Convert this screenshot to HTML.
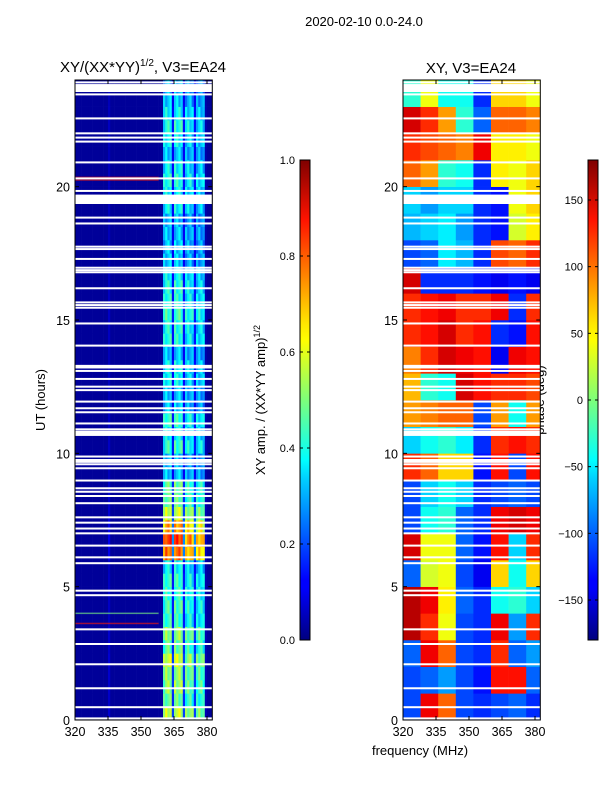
<!DOCTYPE html>
<html><head><meta charset="utf-8">
<style>
body{margin:0;background:#fff;}
svg{display:block;font-family:"Liberation Sans",sans-serif;}
</style></head>
<body>
<svg id="fig" width="600" height="800" viewBox="0 0 600 800">
<defs>
<linearGradient id="jetv" x1="0" y1="1" x2="0" y2="0">
<stop offset="0" stop-color="#00007f"/><stop offset="0.11" stop-color="#0000ff"/>
<stop offset="0.125" stop-color="#0000ff"/><stop offset="0.34" stop-color="#00d4ff"/>
<stop offset="0.375" stop-color="#00ffff"/><stop offset="0.5" stop-color="#7dff7a"/>
<stop offset="0.625" stop-color="#ffff00"/><stop offset="0.66" stop-color="#ffe600"/>
<stop offset="0.875" stop-color="#ff1300"/><stop offset="1" stop-color="#7f0000"/>
</linearGradient>
</defs>
<text x="364" y="26" font-size="13" text-anchor="middle">2020-02-10 0.0-24.0</text>
<text x="143" y="72" font-size="15" text-anchor="middle">XY/(XX*YY)<tspan font-size="10" dy="-6">1/2</tspan><tspan dy="6">, V3=EA24</tspan></text>
<text x="471" y="73" font-size="15" text-anchor="middle">XY, V3=EA24</text>
<text x="0" y="0" font-size="13" text-anchor="middle" transform="translate(45,400) rotate(-90)">UT (hours)</text>
<text x="420" y="755" font-size="13" text-anchor="middle">frequency (MHz)</text>
<text x="0" y="0" font-size="13" text-anchor="middle" transform="translate(265,400) rotate(-90)">XY amp. / (XX*YY amp)<tspan font-size="9" dy="-5">1/2</tspan></text>
<text x="0" y="0" font-size="13" text-anchor="middle" transform="translate(544,400) rotate(-90)">phase (deg)</text>
<g id="left"></g><g id="right"></g><g id="cbars"></g>
</svg>
<script>
// ---- data ----
const flagHours = [23.91,23.81,23.7,23.6,23.46,22.56,22.0,21.84,21.69,20.91,20.31,19.84,19.66,19.56,19.46,18.84,18.62,17.75,17.66,17.29,16.96,16.87,16.79,16.19,15.66,15.56,15.46,14.87,14.04,13.28,13.22,13.09,12.79,12.5,12.37,11.94,11.69,11.54,11.12,10.9,10.81,10.75,10.69,9.88,9.75,9.68,9.59,9.44,8.98,8.69,8.56,8.4,8.13,7.6,7.4,7.18,7.0,6.54,6.1,5.88,4.85,4.68,3.4,2.85,2.09,1.19,0.48,0.06];
// stripe amplitude per half-hour (index 0 = 0-0.5h)
const rowAmp = [0.55,0.45,0.5,0.5,0.55,0.45,0.5,0.4,0.42,0.4,0.4,0.35,0.75,0.8,0.7,0.55,0.45,0.45,0.3,0.28,0.4,0.35,0.4,0.3,0.3,0.35,0.35,0.3,0.38,0.38,0.42,0.38,0.38,0.35,0.3,0.3,0.3,0.28,0.35,0.35,0.38,0.35,0.3,0.35,0.38,0.35,0.3,0.28];
// channel weights, 1 MHz channels starting at 320
const chanWeight = [0,0,0,0,0,0,0,0,0,0,0,0,0,0,0,0.1,0,0,0,0,0,0,0,0,0,0,0,0,0,0,0,0,0,0,0,0,0,0,0,0,0.9,1,1,1,0.3,1,1,1,1,0.3,0.85,0.9,0.9,0.85,0.3,0.8,0.85,0.85,0.8,0.05,0,0,0];
const rfiHours = [20.35,20.25,18.62,3.62,4.0];
const rfiValues = [0.9,0.85,0.6,0.85,0.5];
// phase grid: rows hour 0..23, cols 8 frequency groups
const phaseColEdges = [320,328,336,344,352,360,368,376,382.5];
const phaseRows = [
[-110,140,100,-110,-120,-110,-100,-120],
[-110,-100,-80,-110,-130,130,130,-100],
[-100,140,100,-110,-120,120,-100,-80],
[160,120,40,-110,-120,140,-80,120],
[160,140,50,-100,-120,-40,-30,-60],
[-100,30,40,-110,-140,60,-40,60],
[150,40,40,-100,-130,130,-60,120],
[-110,-40,-30,-100,-120,140,150,140],
[-110,-60,-40,-60,-120,-110,-100,-110],
[120,100,60,60,-130,130,-110,130],
[-60,-40,-30,-50,-120,120,130,120],
[80,90,100,100,-110,80,-40,80],
[70,-30,-40,150,130,120,120,110],
[90,120,150,140,130,-140,140,130],
[120,130,150,120,130,-120,-130,130],
[120,130,140,120,120,140,-120,120],
[150,-120,-120,-120,-130,-140,-130,-140],
[-110,-100,-50,-70,-120,110,100,120],
[-70,-60,-50,-80,-120,-130,30,50],
[-60,-80,-60,-60,-120,-130,40,60],
[100,80,-30,-40,-120,50,40,60],
[120,110,100,90,140,50,50,40],
[150,120,80,-30,-100,100,100,90],
[-30,40,-40,-40,-120,60,60,40]];
const xTicks = [320,335,350,365,380];
const yTicks = [0,5,10,15,20];
const ampTicks = [0.0,0.2,0.4,0.6,0.8,1.0];
const phaseTicks = [-150,-100,-50,0,50,100,150];

// ---- helpers ----
const NS="http://www.w3.org/2000/svg";
function jet(t){t=Math.max(0,Math.min(1,t));
 const r=Math.max(0,Math.min(1,1.5-Math.abs(4*t-3))),g=Math.max(0,Math.min(1,1.5-Math.abs(4*t-2))),b=Math.max(0,Math.min(1,1.5-Math.abs(4*t-1)));
 return `rgb(${Math.round(r*255)},${Math.round(g*255)},${Math.round(b*255)})`;}
function mk(tag,attrs,parent){const e=document.createElementNS(NS,tag);for(const k in attrs)e.setAttribute(k,attrs[k]);parent.appendChild(e);return e;}
const Y0=720,Y1=80;
function yS(h){return Y0-(h/24)*(Y0-Y1);}
function xS(x0){return f=>x0+(f-320)*2.2;}
const FMAX=382.4;

function axes(g,x0,name){
 const xs=xS(x0), x1=xs(FMAX);
 const fr=mk('rect',{x:x0,y:Y1,width:x1-x0,height:Y0-Y1,fill:'none',stroke:'#000','stroke-width':1},g);
 
 
 xTicks.forEach(v=>{const x=xs(v);
  mk('line',{x1:x,x2:x,y1:Y0,y2:Y0-4,stroke:'#000'},g);mk('line',{x1:x,x2:x,y1:Y1,y2:Y1+4,stroke:'#000'},g);
  const t=mk('text',{x:x,y:Y0+16,'font-size':12.5,'text-anchor':'middle'},g);t.textContent=v;
  
  });
 yTicks.forEach(v=>{const y=yS(v);
  mk('line',{x1:x0,x2:x0+4,y1:y,y2:y,stroke:'#000'},g);mk('line',{x1:x1,x2:x1-4,y1:y,y2:y,stroke:'#000'},g);
  const t=mk('text',{x:x0-5,y:y+5,'font-size':12.5,'text-anchor':'end'},g);t.textContent=v;
  
  });
}
function flags(g,x0){const xs=xS(x0);
 flagHours.forEach(h=>{const r=mk('rect',{x:x0,y:yS(h)-1,width:xs(FMAX)-x0,height:2,fill:'#fff'},g);
  
  });
 const gap=mk('rect',{x:x0,y:yS(19.7),width:xs(FMAX)-x0,height:yS(19.35)-yS(19.7),fill:'#fff'},g);
 
 
 const top=mk('rect',{x:x0,y:yS(23.8),width:xs(FMAX)-x0,height:yS(23.55)-yS(23.8),fill:'#fff'},g);
 
 
}

// ---- left amplitude heatmap ----
(function(){const g=document.getElementById('left');const x0=75,xs=xS(x0);
 rowAmp.forEach((a,r)=>{chanWeight.forEach((w,c)=>{
  const f0=320+c,f1=Math.min(FMAX,f0+1); if(f0>=FMAX)return;
  const v=0.025+a*w+(w>0.5?((r+c)%3-1)*0.05:0);
  const cell=mk('rect',{x:xs(f0),y:yS((r+1)/2),width:xs(f1)-xs(f0)+0.3,height:yS(r/2)-yS((r+1)/2)+0.3,fill:jet(v)},g);
  
  });});
 rfiHours.forEach((h,i)=>{const l=mk('rect',{x:x0,y:yS(h)-0.75,width:xs(358)-x0,height:1.5,fill:jet(rfiValues[i]),opacity:0.6},g);
  
  });
 flags(g,x0);axes(g,x0,'amp-panel');
})();

// ---- right phase heatmap ----
(function(){const g=document.getElementById('right');const x0=403,xs=xS(x0);
 phaseRows.forEach((row,h)=>{row.forEach((v,c)=>{
  const f0=phaseColEdges[c],f1=Math.min(FMAX,phaseColEdges[c+1]);
  const cell=mk('rect',{x:xs(f0),y:yS(h+1),width:xs(f1)-xs(f0)+0.3,height:yS(h)-yS(h+1)+0.3,fill:jet((v+180)/360)},g);
  
  });});
 flags(g,x0);axes(g,x0,'phase-panel');
})();

// ---- colorbars ----
(function(){const g=document.getElementById('cbars');
 function cbar(x,ticks,lo,hi,name,fmt){
  const r=mk('rect',{x:x,y:160,width:10,height:480,fill:'url(#jetv)',stroke:'#000','stroke-width':1},g);
  
  
  ticks.forEach(v=>{const y=640-(v-lo)/(hi-lo)*480;
   mk('line',{x1:x,x2:x+3,y1:y,y2:y,stroke:'#000'},g);mk('line',{x1:x+10,x2:x+7,y1:y,y2:y,stroke:'#000'},g);
   const t=mk('text',{x:x-5,y:y+4,'font-size':11,'text-anchor':'end'},g);t.textContent=fmt(v);
   
   });
 }
 cbar(300,ampTicks,0,1,'amp-colorbar',v=>v.toFixed(1));
 cbar(588,phaseTicks,-180,180,'phase-colorbar',v=>v<0?'\u2212'+(-v):String(v));
})();
</script>
</body></html>
